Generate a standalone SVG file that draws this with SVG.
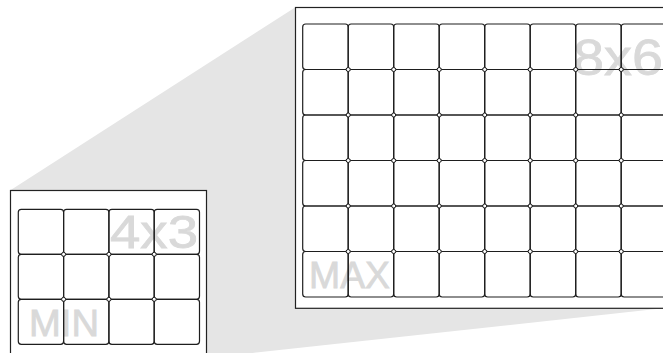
<svg xmlns="http://www.w3.org/2000/svg" width="663" height="353" viewBox="0 0 663 353">
<style>
.frame{fill:#fff;stroke:#222;stroke-width:1.2}
.cell{fill:none;stroke:#1e1e1e;stroke-width:1.2}
.j{fill:#fff;stroke:#1e1e1e;stroke-width:1}
.lbl{font-family:"Liberation Sans",Arial,Helvetica,sans-serif;fill:#d9d9d9;stroke:#d9d9d9;stroke-width:0.8}
</style>
<rect x="0" y="0" width="663" height="353" fill="#fff"/>
<g id="zoom-wedge">
<polygon points="10,190.5 295,7.5 663,7.5 663,308.3 206.5,358 10,358" fill="#e5e5e5"/>
</g>
<g id="small-panel">
<rect class="frame" x="10.5" y="190.5" width="196" height="180"/>
<text class="lbl" x="110" y="248" font-size="46.5" textLength="88" lengthAdjust="spacingAndGlyphs">4x3</text>
<text class="lbl" x="29" y="336" font-size="37" textLength="70" lengthAdjust="spacingAndGlyphs">MIN</text>
<g id="small-grid">
<rect class="cell" x="18.3" y="209.3" width="45.3" height="45" rx="3"/>
<rect class="cell" x="63.6" y="209.3" width="45.3" height="45" rx="3"/>
<rect class="cell" x="108.9" y="209.3" width="45.3" height="45" rx="3"/>
<rect class="cell" x="154.2" y="209.3" width="45.3" height="45" rx="3"/>
<rect class="cell" x="18.3" y="254.3" width="45.3" height="45" rx="3"/>
<rect class="cell" x="63.6" y="254.3" width="45.3" height="45" rx="3"/>
<rect class="cell" x="108.9" y="254.3" width="45.3" height="45" rx="3"/>
<rect class="cell" x="154.2" y="254.3" width="45.3" height="45" rx="3"/>
<rect class="cell" x="18.3" y="299.3" width="45.3" height="45" rx="3"/>
<rect class="cell" x="63.6" y="299.3" width="45.3" height="45" rx="3"/>
<rect class="cell" x="108.9" y="299.3" width="45.3" height="45" rx="3"/>
<rect class="cell" x="154.2" y="299.3" width="45.3" height="45" rx="3"/>
<circle class="j" cx="63.6" cy="254.3" r="2"/>
<circle class="j" cx="108.9" cy="254.3" r="2"/>
<circle class="j" cx="154.2" cy="254.3" r="2"/>
<circle class="j" cx="63.6" cy="299.3" r="2"/>
<circle class="j" cx="108.9" cy="299.3" r="2"/>
<circle class="j" cx="154.2" cy="299.3" r="2"/>
</g>
</g>
<g id="big-panel">
<rect class="frame" x="295.5" y="7.5" width="400" height="300.8"/>
<text class="lbl" x="573" y="74.7" font-size="50" textLength="90" lengthAdjust="spacingAndGlyphs">8x6</text>
<text class="lbl" x="309" y="288.3" font-size="37" textLength="81" lengthAdjust="spacingAndGlyphs">MAX</text>
<g id="big-grid">
<rect class="cell" x="302.7" y="24" width="45.5" height="45.5" rx="3"/>
<rect class="cell" x="348.2" y="24" width="45.5" height="45.5" rx="3"/>
<rect class="cell" x="393.7" y="24" width="45.5" height="45.5" rx="3"/>
<rect class="cell" x="439.2" y="24" width="45.5" height="45.5" rx="3"/>
<rect class="cell" x="484.7" y="24" width="45.5" height="45.5" rx="3"/>
<rect class="cell" x="530.2" y="24" width="45.5" height="45.5" rx="3"/>
<rect class="cell" x="575.7" y="24" width="45.5" height="45.5" rx="3"/>
<rect class="cell" x="621.2" y="24" width="45.5" height="45.5" rx="3"/>
<rect class="cell" x="302.7" y="69.5" width="45.5" height="45.5" rx="3"/>
<rect class="cell" x="348.2" y="69.5" width="45.5" height="45.5" rx="3"/>
<rect class="cell" x="393.7" y="69.5" width="45.5" height="45.5" rx="3"/>
<rect class="cell" x="439.2" y="69.5" width="45.5" height="45.5" rx="3"/>
<rect class="cell" x="484.7" y="69.5" width="45.5" height="45.5" rx="3"/>
<rect class="cell" x="530.2" y="69.5" width="45.5" height="45.5" rx="3"/>
<rect class="cell" x="575.7" y="69.5" width="45.5" height="45.5" rx="3"/>
<rect class="cell" x="621.2" y="69.5" width="45.5" height="45.5" rx="3"/>
<rect class="cell" x="302.7" y="115" width="45.5" height="45.5" rx="3"/>
<rect class="cell" x="348.2" y="115" width="45.5" height="45.5" rx="3"/>
<rect class="cell" x="393.7" y="115" width="45.5" height="45.5" rx="3"/>
<rect class="cell" x="439.2" y="115" width="45.5" height="45.5" rx="3"/>
<rect class="cell" x="484.7" y="115" width="45.5" height="45.5" rx="3"/>
<rect class="cell" x="530.2" y="115" width="45.5" height="45.5" rx="3"/>
<rect class="cell" x="575.7" y="115" width="45.5" height="45.5" rx="3"/>
<rect class="cell" x="621.2" y="115" width="45.5" height="45.5" rx="3"/>
<rect class="cell" x="302.7" y="160.5" width="45.5" height="45.5" rx="3"/>
<rect class="cell" x="348.2" y="160.5" width="45.5" height="45.5" rx="3"/>
<rect class="cell" x="393.7" y="160.5" width="45.5" height="45.5" rx="3"/>
<rect class="cell" x="439.2" y="160.5" width="45.5" height="45.5" rx="3"/>
<rect class="cell" x="484.7" y="160.5" width="45.5" height="45.5" rx="3"/>
<rect class="cell" x="530.2" y="160.5" width="45.5" height="45.5" rx="3"/>
<rect class="cell" x="575.7" y="160.5" width="45.5" height="45.5" rx="3"/>
<rect class="cell" x="621.2" y="160.5" width="45.5" height="45.5" rx="3"/>
<rect class="cell" x="302.7" y="206" width="45.5" height="45.5" rx="3"/>
<rect class="cell" x="348.2" y="206" width="45.5" height="45.5" rx="3"/>
<rect class="cell" x="393.7" y="206" width="45.5" height="45.5" rx="3"/>
<rect class="cell" x="439.2" y="206" width="45.5" height="45.5" rx="3"/>
<rect class="cell" x="484.7" y="206" width="45.5" height="45.5" rx="3"/>
<rect class="cell" x="530.2" y="206" width="45.5" height="45.5" rx="3"/>
<rect class="cell" x="575.7" y="206" width="45.5" height="45.5" rx="3"/>
<rect class="cell" x="621.2" y="206" width="45.5" height="45.5" rx="3"/>
<rect class="cell" x="302.7" y="251.5" width="45.5" height="45.5" rx="3"/>
<rect class="cell" x="348.2" y="251.5" width="45.5" height="45.5" rx="3"/>
<rect class="cell" x="393.7" y="251.5" width="45.5" height="45.5" rx="3"/>
<rect class="cell" x="439.2" y="251.5" width="45.5" height="45.5" rx="3"/>
<rect class="cell" x="484.7" y="251.5" width="45.5" height="45.5" rx="3"/>
<rect class="cell" x="530.2" y="251.5" width="45.5" height="45.5" rx="3"/>
<rect class="cell" x="575.7" y="251.5" width="45.5" height="45.5" rx="3"/>
<rect class="cell" x="621.2" y="251.5" width="45.5" height="45.5" rx="3"/>
<circle class="j" cx="348.2" cy="69.5" r="2"/><circle class="j" cx="393.7" cy="69.5" r="2"/><circle class="j" cx="439.2" cy="69.5" r="2"/><circle class="j" cx="484.7" cy="69.5" r="2"/><circle class="j" cx="530.2" cy="69.5" r="2"/><circle class="j" cx="575.7" cy="69.5" r="2"/><circle class="j" cx="621.2" cy="69.5" r="2"/>
<circle class="j" cx="348.2" cy="115" r="2"/><circle class="j" cx="393.7" cy="115" r="2"/><circle class="j" cx="439.2" cy="115" r="2"/><circle class="j" cx="484.7" cy="115" r="2"/><circle class="j" cx="530.2" cy="115" r="2"/><circle class="j" cx="575.7" cy="115" r="2"/><circle class="j" cx="621.2" cy="115" r="2"/>
<circle class="j" cx="348.2" cy="160.5" r="2"/><circle class="j" cx="393.7" cy="160.5" r="2"/><circle class="j" cx="439.2" cy="160.5" r="2"/><circle class="j" cx="484.7" cy="160.5" r="2"/><circle class="j" cx="530.2" cy="160.5" r="2"/><circle class="j" cx="575.7" cy="160.5" r="2"/><circle class="j" cx="621.2" cy="160.5" r="2"/>
<circle class="j" cx="348.2" cy="206" r="2"/><circle class="j" cx="393.7" cy="206" r="2"/><circle class="j" cx="439.2" cy="206" r="2"/><circle class="j" cx="484.7" cy="206" r="2"/><circle class="j" cx="530.2" cy="206" r="2"/><circle class="j" cx="575.7" cy="206" r="2"/><circle class="j" cx="621.2" cy="206" r="2"/>
<circle class="j" cx="348.2" cy="251.5" r="2"/><circle class="j" cx="393.7" cy="251.5" r="2"/><circle class="j" cx="439.2" cy="251.5" r="2"/><circle class="j" cx="484.7" cy="251.5" r="2"/><circle class="j" cx="530.2" cy="251.5" r="2"/><circle class="j" cx="575.7" cy="251.5" r="2"/><circle class="j" cx="621.2" cy="251.5" r="2"/>
</g>
</g>
</svg>
